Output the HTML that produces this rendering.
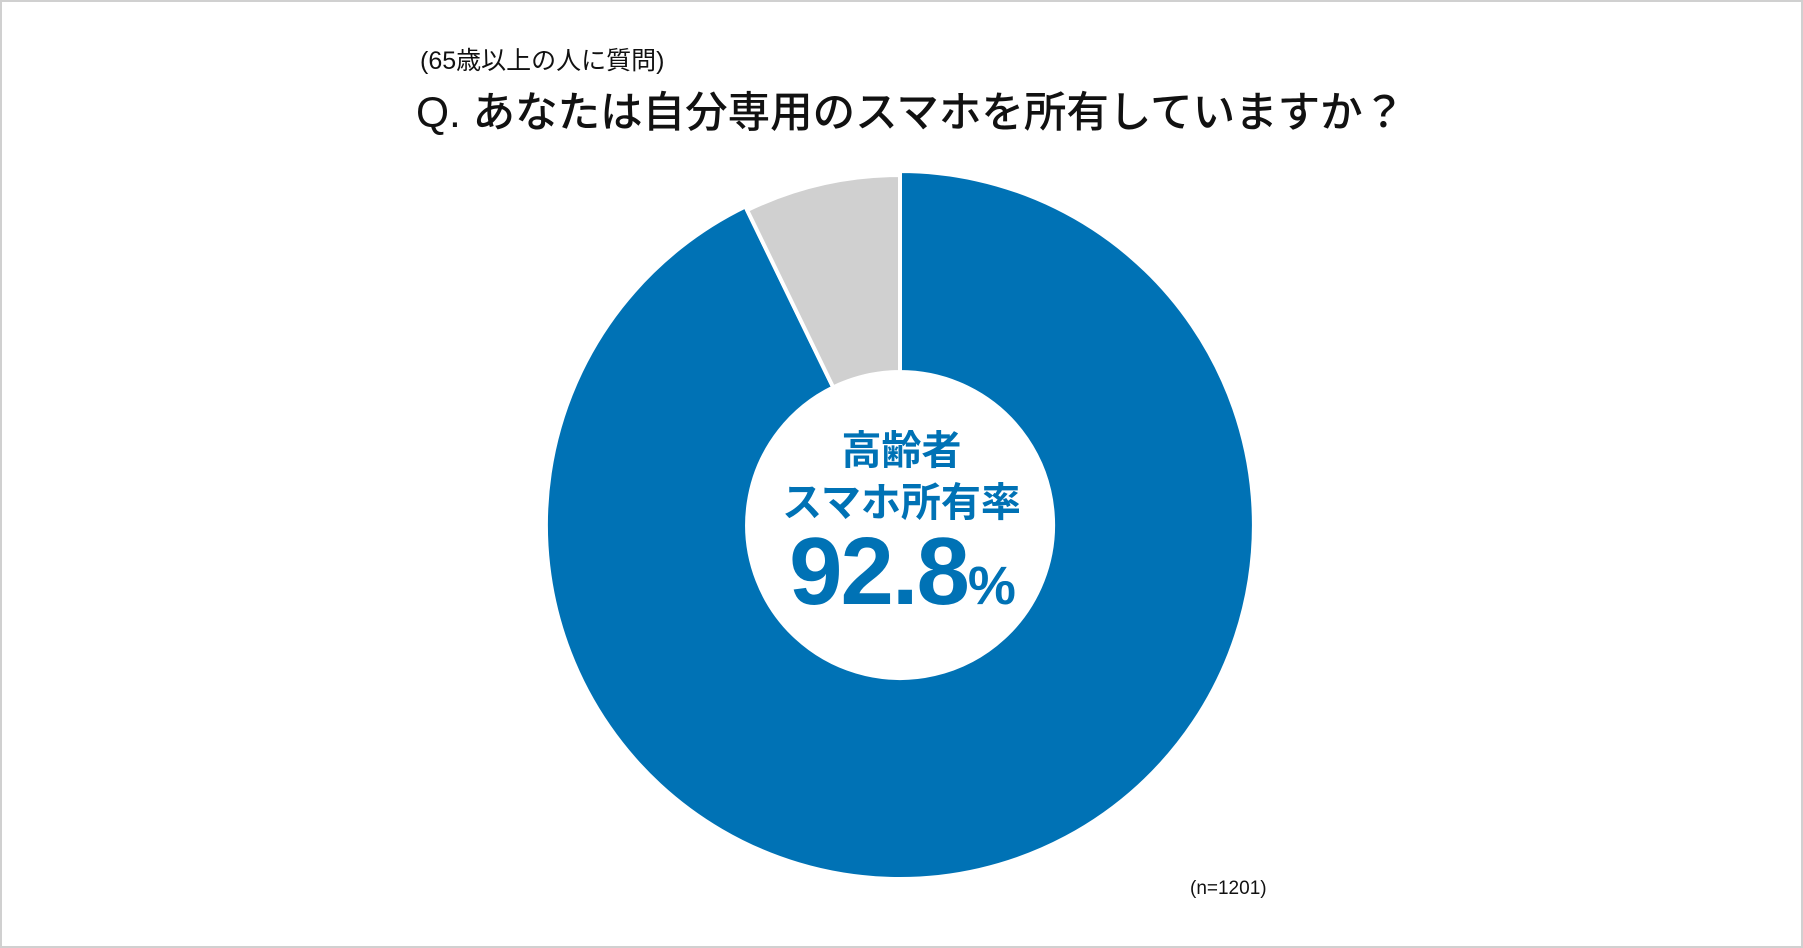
<!DOCTYPE html>
<html><head><meta charset="utf-8"><style>
body{margin:0;background:#fff}
.w{position:relative;width:1803px;height:948px;box-sizing:border-box;border:2px solid #d0d0d0;overflow:hidden;font-family:"Liberation Sans","Noto Sans CJK JP",sans-serif}
.t{position:absolute;white-space:nowrap;color:#111}
</style></head><body><div class="w">
<svg width="1803" height="948" style="position:absolute;left:-2px;top:-2px">
<path d="M900,171 A354,354 0 1,1 745.4,206.5 L833.2,387.4 A153,153 0 1,0 900,372 Z" fill="#0072b5" stroke="#fff" stroke-width="4" stroke-linejoin="round"/>
<path d="M747.1,210.1 A350,350 0 0,1 900,175 L900,372 A153,153 0 0,0 833.2,387.4 Z" fill="#d0d0d0" stroke="#fff" stroke-width="4" stroke-linejoin="round"/>
<circle cx="900" cy="525" r="152" fill="#fff"/>
</svg>
<div class="t" style="left:418px;top:39px;font-size:25px">(65歳以上の人に質問)</div>
<div class="t" style="left:414px;top:77px;font-size:42.5px;font-weight:500">Q. あなたは自分専用のスマホを所有していますか？</div>
<div class="t" style="left:0;width:1799px;text-align:center;top:416px;font-size:40px;font-weight:bold;color:#0072b5">高齢者</div>
<div class="t" style="left:0;width:1799px;text-align:center;top:468px;font-size:40px;font-weight:bold;color:#0072b5">スマホ所有率</div>
<div class="t" style="left:0;width:1799px;text-align:center;top:515px;font-size:96px;font-weight:bold;color:#0072b5;letter-spacing:-2px">92.8<span style="font-size:54px">%</span></div>
<div class="t" style="left:1188px;top:876px;font-size:19px">(n=1201)</div>
</div></body></html>
